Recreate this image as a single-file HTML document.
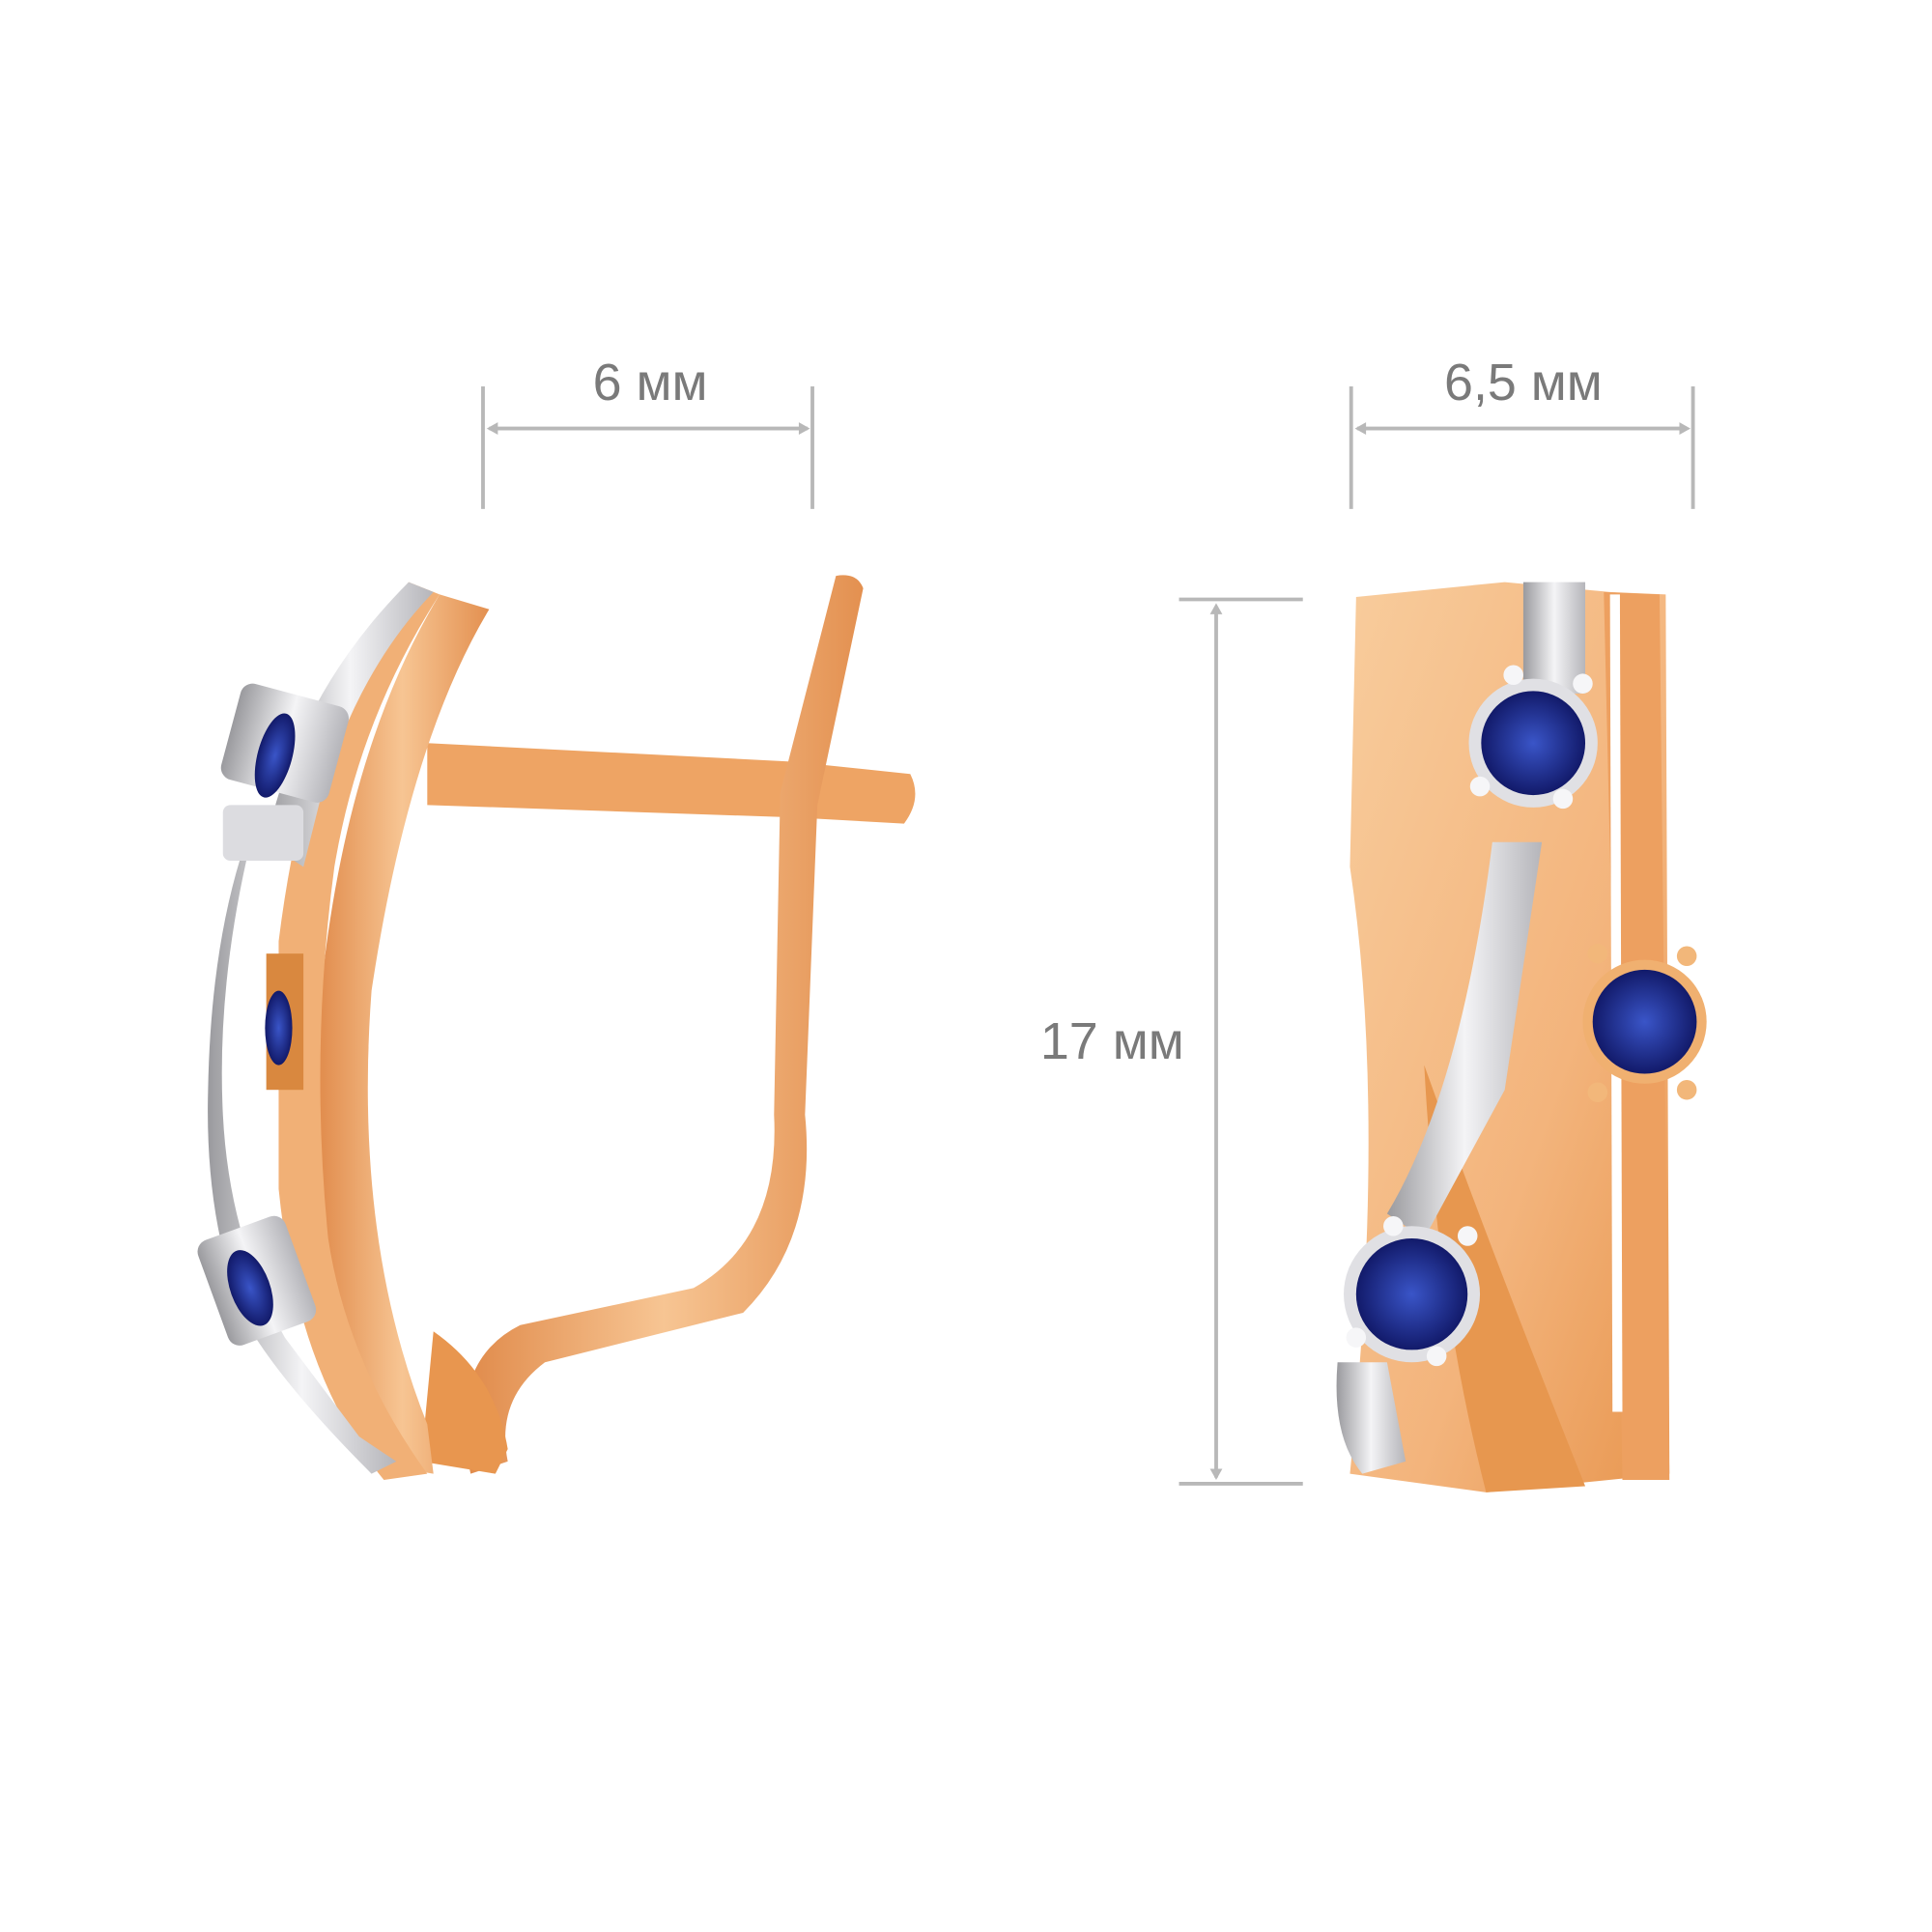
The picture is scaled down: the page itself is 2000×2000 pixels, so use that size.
<!DOCTYPE html>
<html><head><meta charset="utf-8"><style>
html,body{margin:0;padding:0;background:#fff;}
svg{display:block;}
</style></head><body>
<svg width="2000" height="2000" viewBox="0 0 1560 1560" xmlns="http://www.w3.org/2000/svg">
<defs>
<linearGradient id="g1" x1="0" x2="1" y1="0" y2="0">
<stop offset="0" stop-color="#e08a4a"/><stop offset="0.5" stop-color="#f7c593"/><stop offset="1" stop-color="#e39050"/>
</linearGradient>
<linearGradient id="g2" x1="0" x2="1" y1="0" y2="1">
<stop offset="0" stop-color="#f8cc9c"/><stop offset="0.6" stop-color="#f3b47c"/><stop offset="1" stop-color="#e8964f"/>
</linearGradient>
<linearGradient id="s1" x1="0" x2="1">
<stop offset="0" stop-color="#9a9a9e"/><stop offset="0.5" stop-color="#f4f4f6"/><stop offset="1" stop-color="#b5b5ba"/>
</linearGradient>
<radialGradient id="b1"><stop offset="0" stop-color="#3a55c8"/><stop offset="1" stop-color="#121a6a"/></radialGradient>
</defs>
<g fill="#7a7a7a" font-family="Liberation Sans, sans-serif" font-size="42">
<text x="525" y="323" text-anchor="middle">6 мм</text>
<text x="1230" y="323" text-anchor="middle">6,5 мм</text>
<text x="898" y="855" text-anchor="middle">17 мм</text>
</g>
<g stroke="#b8b8b8" stroke-width="3" fill="none">
<line x1="390" y1="312" x2="390" y2="411"/><line x1="656" y1="312" x2="656" y2="411"/>
<line x1="395" y1="346" x2="652" y2="346"/>
<line x1="1091" y1="312" x2="1091" y2="411"/><line x1="1367" y1="312" x2="1367" y2="411"/>
<line x1="1096" y1="346" x2="1362" y2="346"/>
<line x1="952" y1="484" x2="1052" y2="484"/><line x1="952" y1="1198" x2="1052" y2="1198"/>
<line x1="982" y1="490" x2="982" y2="1193"/>
</g>
<g fill="#b8b8b8">
<path d="M393 346l9-5v10z"/><path d="M654 346l-9-5v10z"/>
<path d="M1094 346l9-5v10z"/><path d="M1365 346l-9-5v10z"/>
<path d="M982 487l-5 9h10z"/><path d="M982 1195l-5-9h10z"/>
</g>
<!-- left earring -->
<path d="M345 600 L640 615 L735 625 Q745 645 730 665 L640 660 L345 650 Z" fill="#eea464"/>
<path d="M675 465 Q692 462 697 475 L660 650 L650 900 Q660 1000 600 1060 L440 1100 Q400 1130 410 1180 L380 1190 Q360 1100 420 1070 L560 1040 Q630 1000 625 900 L630 640 Z" fill="url(#g1)"/>
<path d="M350 1075 Q400 1110 410 1170 L400 1190 L340 1180 Z" fill="#e8964f"/>
<path d="M355 480 L395 492 Q330 600 300 800 Q285 1000 345 1150 L350 1190 L320 1185 Q250 1060 255 850 Q270 620 355 480 Z" fill="url(#g1)"/>
<path d="M330 470 L355 480 Q290 580 270 700 Q250 850 265 1000 Q280 1100 345 1190 L310 1195 Q240 1110 225 960 L225 760 Q250 560 330 470 Z" fill="#f1b076"/>
<path d="M330 470 L350 478 Q290 540 260 640 L245 700 L215 680 Q240 560 330 470 Z" fill="url(#s1)"/>
<path d="M200 690 Q175 800 180 900 Q185 1000 230 1080 L290 1160 L320 1180 L300 1190 Q230 1120 200 1070 Q165 990 168 880 Q170 770 195 690 Z" fill="url(#s1)"/>
<rect x="185" y="560" width="90" height="80" rx="10" fill="url(#s1)" transform="rotate(15 230 600)"/>
<rect x="180" y="650" width="65" height="45" rx="6" fill="#dcdce0"/>
<ellipse cx="222" cy="610" rx="14" ry="35" fill="url(#b1)" transform="rotate(15 222 610)"/>
<rect x="215" y="770" width="30" height="110" fill="#d9883f"/>
<ellipse cx="225" cy="830" rx="11" ry="30" fill="url(#b1)"/>
<rect x="170" y="990" width="75" height="90" rx="10" fill="url(#s1)" transform="rotate(-20 205 1035)"/>
<ellipse cx="202" cy="1040" rx="16" ry="32" fill="url(#b1)" transform="rotate(-20 202 1040)"/>
<!-- right earring -->
<path d="M1095 482 L1215 470 L1300 478 L1345 480 L1348 1190 L1200 1205 L1090 1190 Q1120 900 1090 700 Z" fill="url(#g2)"/>
<path d="M1295 478 L1340 480 L1348 1195 L1310 1195 L1305 900 Z" fill="#eda060"/>
<path d="M1300 480 L1308 480 L1310 1140 L1302 1140 Z" fill="#fff"/>
<path d="M1150 860 Q1200 1000 1280 1200 L1200 1205 Q1160 1050 1150 860 Z" fill="#e7974f"/>
<path d="M1230 470 L1280 470 L1280 560 L1230 560 Z" fill="url(#s1)"/>
<path d="M1205 680 L1245 680 L1215 880 L1150 1000 L1120 980 Q1180 880 1205 680 Z" fill="url(#s1)"/>
<path d="M1080 1100 L1120 1100 L1135 1180 L1100 1190 Q1075 1160 1080 1100 Z" fill="url(#s1)"/>
<circle cx="1238" cy="600" r="52" fill="#e0e0e4"/>
<circle cx="1238" cy="600" r="42" fill="url(#b1)"/>
<circle cx="1140" cy="1045" r="55" fill="#e0e0e4"/>
<circle cx="1140" cy="1045" r="45" fill="url(#b1)"/>
<circle cx="1328" cy="825" r="50" fill="#f0b070"/>
<circle cx="1328" cy="825" r="42" fill="url(#b1)"/>
<g fill="#f6f6f8"><circle cx="1222" cy="545" r="8"/><circle cx="1278" cy="552" r="8"/><circle cx="1195" cy="635" r="8"/><circle cx="1262" cy="645" r="8"/>
<circle cx="1125" cy="990" r="8"/><circle cx="1185" cy="998" r="8"/><circle cx="1095" cy="1080" r="8"/><circle cx="1160" cy="1095" r="8"/></g>
<g fill="#f2b77a"><circle cx="1290" cy="770" r="8"/><circle cx="1362" cy="772" r="8"/><circle cx="1290" cy="882" r="8"/><circle cx="1362" cy="880" r="8"/></g>
</svg>
</body></html>
